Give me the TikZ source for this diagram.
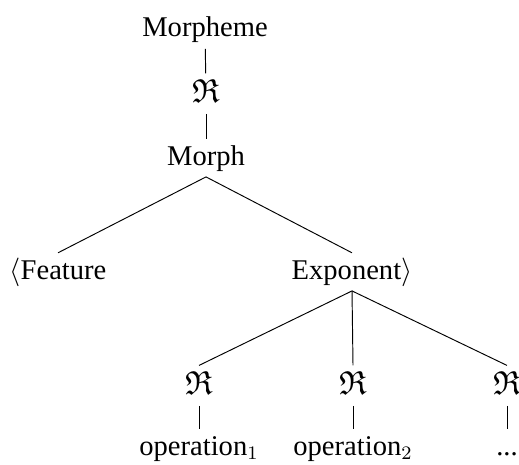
\documentclass[tikz,border=0pt]{standalone}
\usepackage{amssymb}
\usepackage{fontspec}
\setmainfont{Liberation Serif}
\newcommand{\etcdots}{...}
\begin{document}
\begin{tikzpicture}[x=0.42pt,y=-0.42pt,
  lbl/.style={anchor=base,inner sep=1.8pt,text height=9pt,text depth=3pt,font=\fontsize{12}{14}\selectfont},
  rel/.style={lbl,text height=10pt,font=\fontsize{14}{16}\selectfont}]
\useasboundingbox (0,0) rectangle (519,464);
\node[lbl] (morpheme) at (205,37) {Morpheme};
\node[rel] (re) at (206,102) {$\mathfrak{R}$};
\node[lbl] (morph) at (206,165) {Morph};
\node[lbl] (feat) at (58,279) {$\langle$Feature};
\node[lbl] (expo) at (352,279) {Exponent$\rangle$};
\foreach \i/\x/\t in {1/199/operation$_1$,2/353/operation$_2$,3/507/\etcdots}{
  \node[rel] (re\i) at (\x,394) {$\mathfrak{R}$};
  \node[lbl] (op\i) at (\x,455) {\t};
  \draw (expo.south) -- (re\i.north);
  \draw (re\i) -- (op\i);
}
\draw (morpheme) -- (re);
\draw (re) -- (morph);
\draw (morph.south) -- (feat.north);
\draw (morph.south) -- (expo.north);
\end{tikzpicture}
\end{document}
